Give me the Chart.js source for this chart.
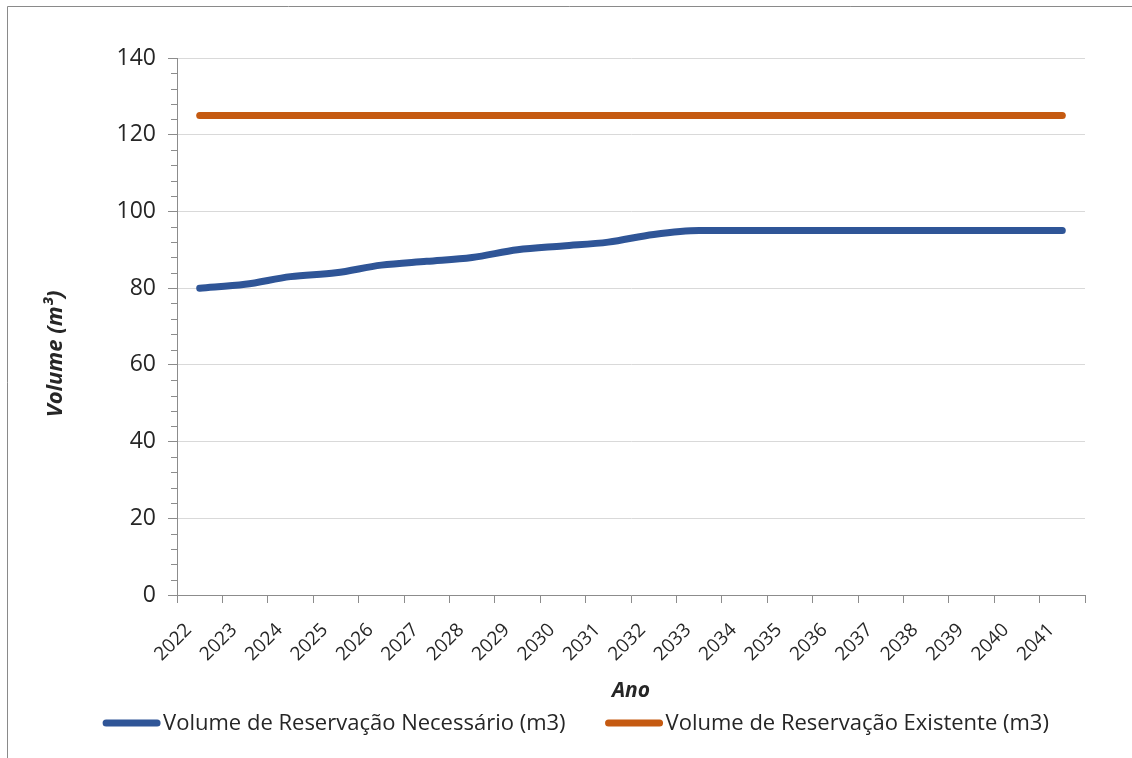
<!DOCTYPE html>
<html>
<head>
<meta charset="utf-8">
<script src="https://cdn.jsdelivr.net/npm/chart.js@4.4.1/dist/chart.umd.min.js"></script>
<style>
  html, body { margin: 0; padding: 0; background: #fff; }
  #wrap { position: relative; width: 1132px; height: 758px; }
  canvas { display: block; }
</style>
</head>
<body>
<div id="wrap"><canvas id="c" width="1132" height="758"></canvas></div>
<script>
const years = ['2022','2023','2024','2025','2026','2027','2028','2029','2030','2031',
               '2032','2033','2034','2035','2036','2037','2038','2039','2040','2041'];
const volumeNecessario = [80, 81, 83, 84, 86, 87, 88, 90, 91, 92, 94, 95, 95, 95, 95, 95, 95, 95, 95, 95];
const volumeExistente  = [125,125,125,125,125,125,125,125,125,125,125,125,125,125,125,125,125,125,125,125];
const seriesLabels = ['Volume de Reservação Necessário (m3)', 'Volume de Reservação Existente (m3)'];
const yTitle = 'Volume (m³)';
const xTitle = 'Ano';

const FONT = '"Open Sans", "DejaVu Sans", sans-serif';
const AXIS_COLOR = '#8c8c8c';
const TEXT_COLOR = '#262626';

const decorPlugin = {
  id: 'decor',
  afterDraw(chart) {
    const ctx = chart.ctx;
    const ys = chart.scales.y;
    const ca = chart.chartArea;
    ctx.save();
    // outer frame (top and left edges visible)
    ctx.strokeStyle = '#8a8a8a';
    ctx.lineWidth = 1;
    ctx.beginPath();
    ctx.moveTo(7.5, 758); ctx.lineTo(7.5, 6.5); ctx.lineTo(1132, 6.5);
    ctx.stroke();
    // minor ticks on y axis
    ctx.strokeStyle = AXIS_COLOR;
    ctx.beginPath();
    for (let v = 0; v <= ys.max; v += 4) {
      if (v % 20 === 0) continue;
      const py = Math.round(ys.getPixelForValue(v)) + 0.5;
      ctx.moveTo(ca.left - 6, py); ctx.lineTo(ca.left, py);
    }
    ctx.stroke();
    // y title
    ctx.fillStyle = TEXT_COLOR;
    ctx.font = 'italic bold 22px ' + FONT;
    ctx.textAlign = 'center';
    ctx.textBaseline = 'middle';
    ctx.save();
    ctx.translate(56, 354);
    ctx.rotate(-Math.PI / 2);
    ctx.fillText(yTitle, 0, 0);
    ctx.restore();
    // x title
    ctx.font = 'italic bold 21px ' + FONT;
    ctx.fillText(xTitle, (ca.left + ca.right) / 2, 691);
    // legend
    ctx.font = '22px ' + FONT;
    const lineW = 57, gapTxt = 3, gapItem = 40;
    const items = chart.data.datasets.map(ds => ({
      label: ds.label, color: ds.borderColor,
      w: lineW + gapTxt + ctx.measureText(ds.label).width
    }));
    const total = items.reduce((s, it) => s + it.w, 0) + gapItem * (items.length - 1);
    let x = 576 - total / 2;
    const ly = 723;
    items.forEach(it => {
      ctx.strokeStyle = it.color;
      ctx.lineWidth = 7;
      ctx.lineCap = 'round';
      ctx.beginPath();
      ctx.moveTo(x + 3, ly); ctx.lineTo(x + lineW - 3, ly);
      ctx.stroke();
      ctx.fillStyle = TEXT_COLOR;
      ctx.textAlign = 'left';
      ctx.fillText(it.label, x + lineW + gapTxt, ly + 1);
      x += it.w + gapItem;
    });
    ctx.restore();
  }
};

new Chart(document.getElementById('c'), {
  type: 'line',
  data: {
    labels: years,
    datasets: [
      {
        label: seriesLabels[0],
        data: volumeNecessario,
        borderColor: '#2f5597',
        backgroundColor: '#2f5597',
        borderWidth: 7,
        pointRadius: 0,
        cubicInterpolationMode: 'monotone',
        borderCapStyle: 'round',
        borderJoinStyle: 'round'
      },
      {
        label: seriesLabels[1],
        data: volumeExistente,
        borderColor: '#c55a11',
        backgroundColor: '#c55a11',
        borderWidth: 7,
        pointRadius: 0,
        borderCapStyle: 'round',
        borderJoinStyle: 'round'
      }
    ]
  },
  options: {
    responsive: false,
    animation: false,
    devicePixelRatio: 1,
    layout: { padding: { left: 20, right: 47, top: 58, bottom: 0 } },
    plugins: {
      legend: { display: false },
      tooltip: { enabled: false }
    },
    scales: {
      x: {
        offset: true,
        afterFit(scale) { scale.height = 163; },
        grid: {
          offset: true,
          drawOnChartArea: false,
          drawTicks: true,
          tickLength: 8,
          tickColor: AXIS_COLOR
        },
        border: { color: AXIS_COLOR, width: 1 },
        ticks: {
          color: TEXT_COLOR,
          font: { family: FONT, size: 19 },
          minRotation: 45,
          maxRotation: 45,
          autoSkip: false,
          padding: 16,
          labelOffset: -11
        }
      },
      y: {
        min: 0,
        max: 140,
        afterFit(scale) { scale.width = 157; },
        grid: {
          color: '#d9d9d9',
          lineWidth: 1,
          drawTicks: true,
          tickLength: 9,
          tickColor: AXIS_COLOR
        },
        border: { color: AXIS_COLOR, width: 1 },
        ticks: {
          stepSize: 20,
          color: TEXT_COLOR,
          font: { family: FONT, size: 23 },
          padding: 12
        }
      }
    }
  },
  plugins: [decorPlugin]
});
</script>
</body>
</html>
